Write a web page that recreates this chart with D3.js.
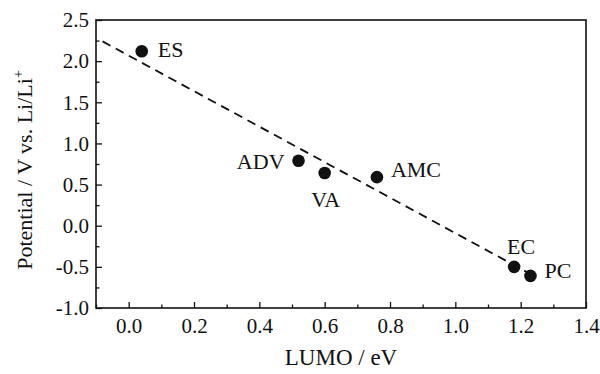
<!DOCTYPE html>
<html>
<head>
<meta charset="utf-8">
<script src="https://cdn.jsdelivr.net/npm/d3@7"></script>
<style>
  body { margin: 0; background: #fff; }
  svg text { font-family: "Liberation Serif", "Times New Roman", Times, serif; fill: #111; }
</style>
</head>
<body>
<div id="chart"></div>
<script>
// solvents: LUMO energy vs reduction potential
const names = ['ES', 'ADV', 'VA', 'AMC', 'EC', 'PC'];
const lumo = [0.04, 0.52, 0.60, 0.76, 1.18, 1.23];
const potential = [2.12, 0.79, 0.64, 0.59, -0.50, -0.61];

// linear fit (dashed)
const fitX = [-0.08, 1.25];
const fitY = [2.24, -0.63];

const xMajor = [0.0, 0.2, 0.4, 0.6, 0.8, 1.0, 1.2, 1.4];
const xMinor = [-0.1, 0.1, 0.3, 0.5, 0.7, 0.9, 1.1, 1.3];
const yMajor = [-1.0, -0.5, 0.0, 0.5, 1.0, 1.5, 2.0, 2.5];
const yMinor = [-0.75, -0.25, 0.25, 0.75, 1.25, 1.75, 2.25];

// label offsets relative to each point
const labelPos = {
  ES: { dx: 16, dy: 6, anchor: 'start' },
  ADV: { dx: -14, dy: 8, anchor: 'end' },
  VA: { dx: 1, dy: 34, anchor: 'middle' },
  AMC: { dx: 14, dy: 0, anchor: 'start' },
  EC: { dx: 7, dy: -13, anchor: 'middle' },
  PC: { dx: 14, dy: 2, anchor: 'start' }
};

const width = 600;
const height = 374;
const margin = { top: 20, right: 14, bottom: 66, left: 96 };
const innerW = width - margin.left - margin.right;
const innerH = height - margin.top - margin.bottom;

const fmt = d => d.toFixed(1);

const svg = d3.select('#chart')
  .append('svg')
  .attr('width', width)
  .attr('height', height);

const g = svg.append('g')
  .attr('transform', `translate(${margin.left},${margin.top})`);

const x = d3.scaleLinear().domain([-0.1, 1.4]).range([0, innerW]);
const y = d3.scaleLinear().domain([-1.0, 2.5]).range([innerH, 0]);

// axes with inward ticks
g.append('g')
  .attr('transform', `translate(0,${innerH})`)
  .call(d3.axisBottom(x).tickValues(xMajor).tickSizeInner(-6).tickSizeOuter(0)
    .tickPadding(10).tickFormat(fmt));
g.append('g')
  .attr('transform', `translate(0,${innerH})`)
  .call(d3.axisBottom(x).tickValues(xMinor).tickSizeInner(-3.5).tickSizeOuter(0)
    .tickFormat(''));

g.append('g')
  .call(d3.axisLeft(y).tickValues(yMajor).tickSizeInner(-6).tickSizeOuter(0)
    .tickPadding(7).tickFormat(fmt));
g.append('g')
  .call(d3.axisLeft(y).tickValues(yMinor).tickSizeInner(-3.5).tickSizeOuter(0)
    .tickFormat(''));

g.selectAll('.domain').remove();
g.selectAll('.tick line').attr('stroke', '#111').attr('stroke-width', 1.3);
g.selectAll('.tick text').attr('font-size', 21).attr('fill', '#111')
  .attr('font-family', null);

// frame
g.append('rect')
  .attr('x', 0).attr('y', 0)
  .attr('width', innerW).attr('height', innerH)
  .attr('fill', 'none')
  .attr('stroke', '#111')
  .attr('stroke-width', 1.6);

// dashed fit line
const line = d3.line().x(d => x(d[0])).y(d => y(d[1]));
g.append('path')
  .datum(fitX.map((v, i) => [v, fitY[i]]))
  .attr('d', line)
  .attr('fill', 'none')
  .attr('stroke', '#111')
  .attr('stroke-width', 1.8)
  .attr('stroke-dasharray', '9,6');

const pts = names.map((n, i) => ({ name: n, x: lumo[i], y: potential[i] }));

g.selectAll('circle.pt')
  .data(pts)
  .join('circle')
  .attr('class', 'pt')
  .attr('cx', d => x(d.x))
  .attr('cy', d => y(d.y))
  .attr('r', 6.3)
  .attr('fill', '#111');

g.selectAll('text.lbl')
  .data(pts)
  .join('text')
  .attr('class', 'lbl')
  .attr('x', d => x(d.x) + labelPos[d.name].dx)
  .attr('y', d => y(d.y) + labelPos[d.name].dy)
  .attr('text-anchor', d => labelPos[d.name].anchor)
  .attr('font-size', 22)
  .text(d => d.name);

// axis titles
svg.append('text')
  .attr('x', margin.left + innerW / 2)
  .attr('y', 365)
  .attr('text-anchor', 'middle')
  .attr('font-size', 23)
  .text('LUMO / eV');

const yTitle = svg.append('text')
  .attr('transform', 'translate(32,170) rotate(-90)')
  .attr('text-anchor', 'middle')
  .attr('font-size', 22);
yTitle.append('tspan').text('Potential / V vs. Li/Li');
yTitle.append('tspan').attr('font-size', 14).attr('dy', -9).text('+');
</script>
</body>
</html>
